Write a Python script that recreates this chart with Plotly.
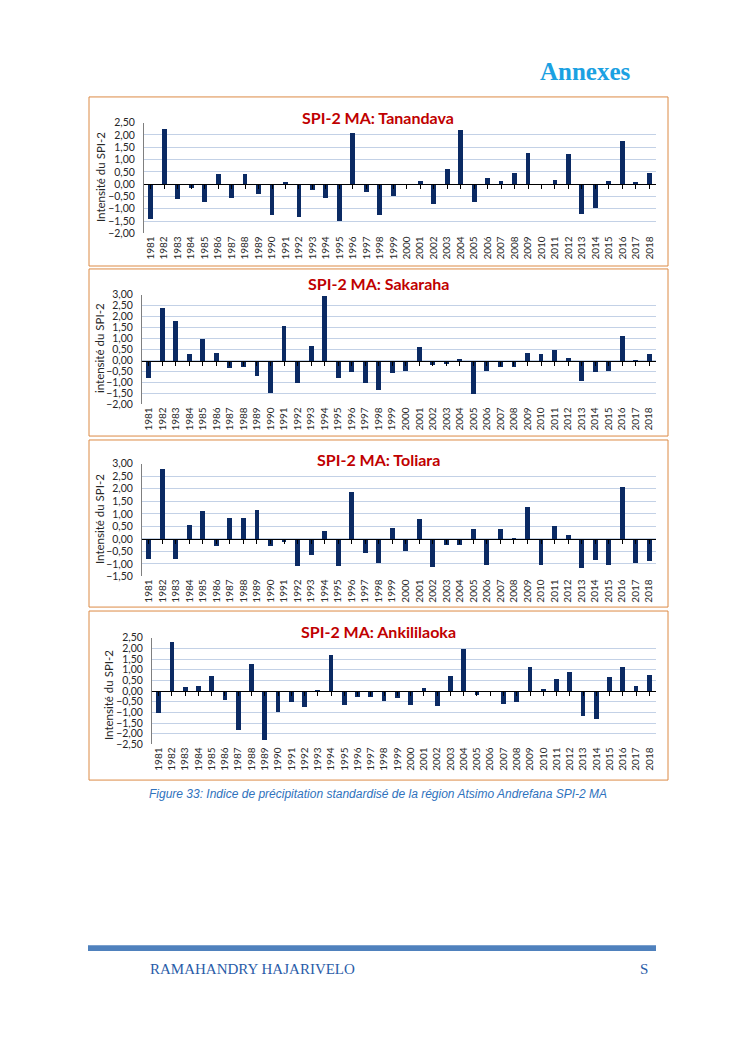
import plotly.graph_objects as go

years = list(range(1981, 2019))
year_labels = [str(y) for y in years]

tanandava = [-1.42, 2.27, -0.60, -0.15, -0.70, 0.42, -0.55, 0.42, -0.38, -1.25,
             0.10, -1.32, -0.22, -0.55, -1.50, 2.08, -0.30, -1.22, -0.48, 0.01,
             0.15, -0.80, 0.64, 2.23, -0.71, 0.28, 0.13, 0.46, 1.30, 0.01,
             0.17, 1.25, -1.21, -0.97, 0.14, 1.77, 0.12, 0.47]
sakaraha = [-0.80, 2.43, 1.83, 0.30, 0.98, 0.35, -0.33, -0.30, -0.69, -1.47,
            1.58, -1.00, 0.68, 2.97, -0.80, -0.50, -1.00, -1.32, -0.54, -0.47,
            0.63, -0.18, -0.15, 0.05, -1.52, -0.44, -0.27, -0.29, 0.38, 0.33,
            0.51, 0.15, -0.92, -0.50, -0.48, 1.15, -0.03, 0.32]
toliara = [-0.81, 2.80, -0.78, 0.58, 1.12, -0.28, 0.85, 0.86, 1.15, -0.28,
           -0.10, -1.06, -0.62, 0.32, -1.06, 1.88, -0.54, -0.95, 0.45, -0.48,
           0.82, -1.12, -0.22, -0.22, 0.41, -1.02, 0.41, 0.05, 1.30, -1.02,
           0.52, 0.18, -1.14, -0.83, -1.05, 2.09, -0.94, -0.86]
ankililaoka = [-1.02, 2.32, 0.21, 0.24, 0.73, -0.38, -1.80, 1.28, -2.26, -0.96,
               -0.50, -0.72, 0.04, 1.72, -0.63, -0.26, -0.27, -0.43, -0.30, -0.64,
               0.14, -0.69, 0.70, 1.98, -0.18, 0.01, -0.61, -0.49, 1.16, 0.11,
               0.56, 0.93, -1.17, -1.27, 0.69, 1.16, 0.24, 0.79]

titles = ["SPI-2 MA: Tanandava", "SPI-2 MA: Sakaraha", "SPI-2 MA: Toliara", "SPI-2 MA: Ankililaoka"]
ytitles = ["Intensité du SPI-2", "intensité du SPI-2", "Intensité du SPI-2", "Intensité du SPI-2"]
series = [tanandava, sakaraha, toliara, ankililaoka]
yranges = [(-2.0, 2.5), (-2.0, 3.0), (-1.5, 3.0), (-2.5, 2.5)]

W, H = 745, 1053
def fx(p): return p / W
def fy(p): return 1 - p / H

# layout geometry in pixels: plot left, right, top, bottom; title y; y-title x, y; box top, bottom
geom = [
    dict(l=144, r=656, t=118, b=230, ty=113, ytx=100, yty=173, bt=92, bb=263),
    dict(l=142, r=656, t=292, b=403, ty=281, ytx=99, yty=346, bt=266, bb=435),
    dict(l=142, r=656, t=463, b=577, ty=459, ytx=99, yty=519, bt=439, bb=608),
    dict(l=152, r=656, t=639, b=747, ty=633, ytx=108, yty=697, bt=612, bb=783),
]

FONT = "Lato"
BAR = "#0b2a63"
GRID = "#c3d1e6"
ORANGE = "#dc8a45"

fig = go.Figure()
layout = {}
annotations = []
shapes = []

for i, (vals, ttl, ytl, (ymin, ymax), g) in enumerate(zip(series, titles, ytitles, yranges, geom), start=1):
    xs = "" if i == 1 else str(i)
    xz = str(i + 4)
    fig.add_trace(go.Bar(x=years, y=vals, width=0.36, marker=dict(color=BAR, line=dict(width=0)),
                         xaxis="x" + xs, yaxis="y" + xs, showlegend=False))
    fig.add_trace(go.Scatter(x=[years[0]], y=[0], mode="markers", marker=dict(opacity=0),
                             xaxis="x" + xz, yaxis="y" + xs, showlegend=False, hoverinfo="skip"))
    xdom = [fx(g["l"]), fx(g["r"])]
    ydom = [fy(g["b"]), fy(g["t"])]
    layout["xaxis" + xs] = dict(domain=xdom, anchor="y" + xs, range=[1980.5, 2018.5],
                                tickmode="array", tickvals=years, ticktext=year_labels,
                                tickangle=-90, tickfont=dict(family=FONT, size=10, color="#262626"),
                                showline=False, ticks="", showgrid=False, zeroline=False)
    layout["yaxis" + xs] = dict(domain=ydom, anchor="x" + xs, range=[ymin, ymax],
                                dtick=0.5, tick0=0, tickformat=".2f",
                                tickfont=dict(family=FONT, size=10.5, color="#262626"),
                                showline=True, linecolor="#7f7f7f", linewidth=1, ticks="",
                                ticklabelstandoff=6,
                                showgrid=True, gridcolor=GRID, gridwidth=1, zeroline=False)
    pos = ydom[0] + (0 - ymin) / (ymax - ymin) * (ydom[1] - ydom[0])
    layout["xaxis" + xz] = dict(overlaying="x" + xs, anchor="free", position=pos,
                                range=[1980.5, 2018.5], tickmode="array", tickvals=years,
                                ticks="outside", ticklen=4, tickwidth=1, tickcolor="black",
                                showline=True, linecolor="black", linewidth=1,
                                showticklabels=False, showgrid=False, zeroline=False)
    annotations.append(dict(text="<b>" + ttl + "</b>", x=fx(378), y=fy(g["ty"]), xref="paper", yref="paper",
                            showarrow=False, xanchor="center", yanchor="middle",
                            font=dict(family=FONT, size=16, color="#c00000")))
    annotations.append(dict(text=ytl, x=fx(g["ytx"]), y=fy(g["yty"]), xref="paper", yref="paper",
                            showarrow=False, textangle=-90, xanchor="center", yanchor="middle",
                            font=dict(family=FONT, size=11.5, color="#262626")))
    shapes.append(dict(type="rect", xref="paper", yref="paper", x0=fx(89), x1=fx(668),
                       y0=fy(g["bb"]), y1=fy(g["bt"]), line=dict(color=ORANGE, width=1)))

# page elements
annotations.append(dict(text="<b>Annexes</b>", x=fx(633), y=fy(66), xref="paper", yref="paper",
                        showarrow=False, xanchor="right", yanchor="middle",
                        font=dict(family="Liberation Serif", size=25, color="#1ba1e2")))
annotations.append(dict(text="<i>Figure 33: Indice de précipitation standardisé de la région Atsimo Andrefana SPI-2 MA</i>",
                        x=fx(147), y=fy(797), xref="paper", yref="paper", showarrow=False,
                        xanchor="left", yanchor="middle",
                        font=dict(family="Liberation Sans", size=12, color="#2f72bd")))
annotations.append(dict(text="RAMAHANDRY HAJARIVELO", x=fx(148), y=fy(974), xref="paper", yref="paper",
                        showarrow=False, xanchor="left", yanchor="middle",
                        font=dict(family="Liberation Serif", size=15, color="#2a5ca8")))
annotations.append(dict(text="S", x=fx(650), y=fy(974), xref="paper", yref="paper",
                        showarrow=False, xanchor="right", yanchor="middle",
                        font=dict(family="Liberation Serif", size=15, color="#2a5ca8")))
shapes.append(dict(type="rect", xref="paper", yref="paper", x0=fx(88), x1=fx(656),
                   y0=fy(956), y1=fy(950), line=dict(width=0), fillcolor="#4f81bd"))

fig.update_layout(width=W, height=H, margin=dict(l=0, r=0, t=0, b=0),
                  paper_bgcolor="white", plot_bgcolor="white", separators=", ",
                  annotations=annotations, shapes=shapes, bargap=0, **layout)

fig.write_html("out.html", config={"displayModeBar": False},
               post_script="document.body.style.margin='0';document.body.style.overflow='hidden';")
